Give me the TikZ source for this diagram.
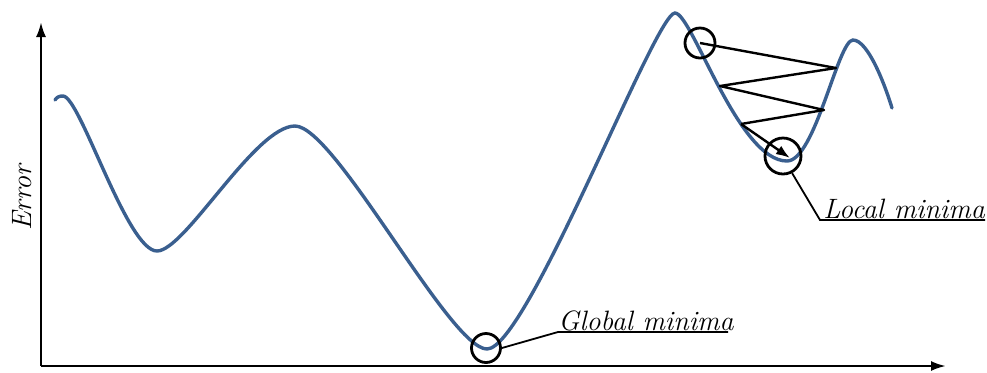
\documentclass[tikz,border=0pt]{standalone}
\usetikzlibrary{arrows.meta}
\definecolor{curveblue}{HTML}{3A5F8F}
\begin{document}
\begin{tikzpicture}[x=0.5pt,y=-0.5pt,
  axis/.style={line width=1.2pt,-{Latex[length=7.5pt,width=5pt]}},
  ring/.style={circle,draw,line width=1.4pt,inner sep=0pt},
  lead/.style={line width=0.9pt},
  zig/.style={line width=1.2pt},
  lbl/.style={inner sep=0pt,font=\fontsize{14}{17}\selectfont\itshape}]
\useasboundingbox (0,0) rectangle (987,372);
% axes
\coordinate (o) at (41,366);
\coordinate (ytop) at (41,22);
\coordinate (xend) at (946,366);
\draw[axis] (o) -- (ytop);
\draw[axis] (o) -- (xend);
\node[lbl,rotate=90] (err) at (22,198) {Error};
% curve
\draw[curveblue,line width=1.7pt,line cap=round]
  (55,100) .. controls (57,97) and (59,96) .. (63,96)
  .. controls (80,96) and (127,251) .. (157,251)
  .. controls (185,251) and (255,126) .. (295,126)
  .. controls (335,126) and (450,349) .. (487,349)
  .. controls (527,349) and (655,13) .. (675,13)
  .. controls (692,13) and (738,161) .. (787,161)
  .. controls (815,161) and (838,40) .. (853,40)
  .. controls (868,40) and (885,85) .. (892,108);
% circles
\node[ring,minimum size=15pt] (ctop) at (700,43) {};
\node[ring,minimum size=18pt] (cloc) at (783,156) {};
\node[ring,minimum size=14.5pt] (cglob) at (486,348) {};
% zigzag
\coordinate (z0) at (700,43);
\coordinate (z1) at (836,68);
\coordinate (z2) at (720,86);
\coordinate (z3) at (824,110);
\coordinate (z4) at (741,124);
\coordinate (z5) at (790,158);
\draw[zig,line join=round] (z0) -- (z1) -- (z2) -- (z3) -- (z4);
\draw[zig,-{Latex[length=7pt,width=5pt]}] (z4) -- (z5);
% labels
\coordinate (lk) at (820,220);
\coordinate (lend) at (985,220);
\draw[lead] (cloc.-62) -- (lk) -- (lend);
\node[lbl,anchor=base west] (ltext) at (823,218.5) {Local minima};
\coordinate (gk) at (558,332);
\coordinate (gend) at (728,332);
\draw[lead] (cglob.east) -- (gk) -- (gend);
\node[lbl,anchor=base west] (gtext) at (558,330.5) {Global minima};
\end{tikzpicture}
\end{document}
